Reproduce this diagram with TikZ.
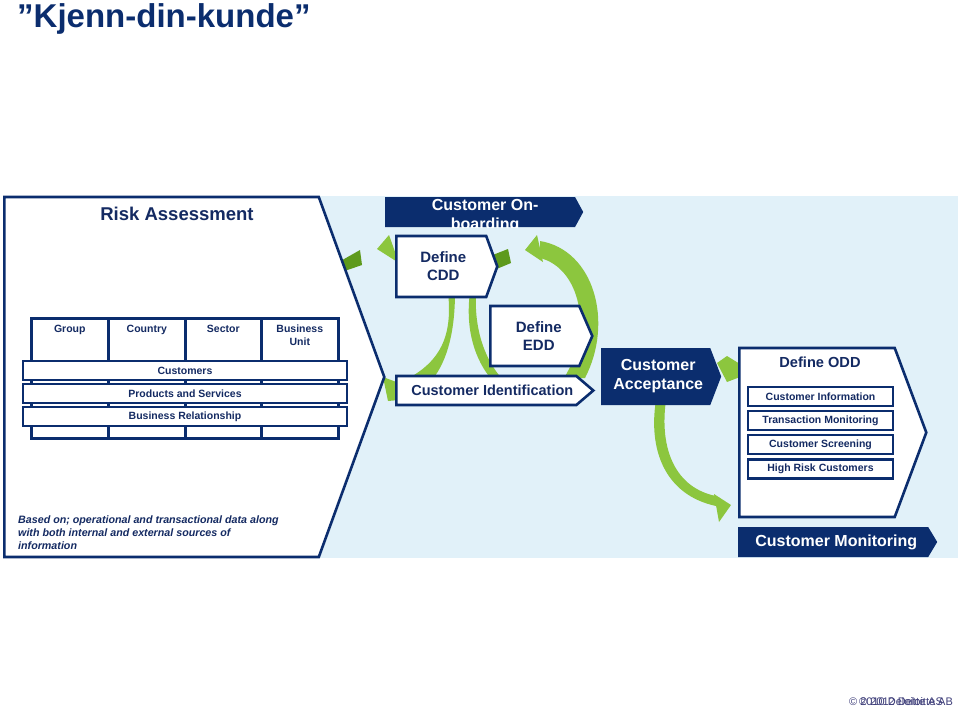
\documentclass[tikz,border=0pt]{standalone}
\usepackage{fontspec}
\setmainfont{Liberation Sans}
\usetikzlibrary{arrows.meta,positioning,calc,shapes.symbols}
\definecolor{navy}{HTML}{0B2D6E}
\definecolor{navytxt}{HTML}{142A62}
\definecolor{skyback}{HTML}{E1F1F9}
\definecolor{verdeclaro}{HTML}{8CC63E}
\definecolor{verdeosc}{HTML}{5E9A1C}
\definecolor{piegris}{HTML}{3C3C78}
\newcommand{\fs}[2]{\fontsize{#1}{#2}\selectfont}
\tikzset{
  sigw/.style  = {signal, signal to=east, draw=navy, line width=2.6pt, fill=white,
                  inner sep=0pt, align=center, text=navytxt, font=\bfseries, anchor=west},
  sign/.style  = {signal, signal to=east, fill=navy, inner sep=0pt, align=center,
                  text=white, font=\bfseries, anchor=west},
  barra/.style = {draw=navy, line width=2.6pt, fill=white, inner sep=0pt,
                  text=navytxt, font=\fs{10.5}{12}\bfseries},
  colu/.style  = {draw=navy, line width=2.6pt, fill=white, inner sep=0pt,
                  minimum width=77pt, minimum height=120pt, anchor=north west},
  cabe/.style  = {text=navytxt, font=\fs{10.5}{13}\bfseries, align=center,
                  inner sep=0pt, anchor=north},
  txt/.style   = {text=navytxt, inner sep=0pt, font=\bfseries},
  verde/.style = {fill=verdeclaro},
  verdeo/.style= {fill=verdeosc},
}

\begin{document}
\begin{tikzpicture}[x=1pt, y=-1pt]
  \useasboundingbox (0,0) rectangle (960,710);
  % titulo
  \node[txt, anchor=base west, text=navy, font=\fs{33}{37}\bfseries] (titulo) at (17,27) {”Kjenn-din-kunde”};
  % fondo
  \fill[skyback] (320,196) rectangle (958,558);

  % flechas verdes
  \fill[verdeo] (330,267) -- (360,250) -- (362,265) -- (330,276) -- cycle;
  \fill[verde] (377,249) -- (389,235) -- (399,263) -- cycle;
  \fill[verdeo] (485,258) -- (508,249) -- (511,263) -- (487,273) -- cycle;
  \fill[verde] (540,241) .. controls (594,250) and (614,322) .. (585,378)
     -- (564,378) .. controls (594,330) and (580,268) .. (540,258) -- cycle;
  \fill[verde] (525,250) -- (537,235) -- (543,262) -- cycle;
  \fill[verde] (448,292) .. controls (452,330) and (445,360) .. (405,380)
     -- (432,380) .. controls (448,360) and (455,330) .. (455,292) -- cycle;
  \fill[verde] (470,292) .. controls (465,330) and (475,360) .. (492,380)
     -- (503,380) .. controls (485,360) and (474,330) .. (476,292) -- cycle;
  \fill[verde] (383,377) -- (399,383) -- (399,400) -- (388,401) -- cycle;
  \fill[verde] (656,400) .. controls (648,450) and (665,495) .. (716,506)
     -- (716,496) .. controls (676,488) and (659,450) .. (666,400) -- cycle;
  \fill[verde] (714,494) -- (731,505) -- (719,522) -- cycle;
  \fill[verde] (717,363) -- (727,356) -- (740,364) -- (740,377) -- (727,382) -- cycle;

  % Risk Assessment
  \node[sigw, minimum width=380pt, minimum height=360pt, signal pointer angle=140] (ra) at (3,377) {};
  \node[txt, font=\fs{18.5}{22}\bfseries] (rat) at (177,214) {Risk Assessment};
  \node[colu] (g1) at (30,317) {};
  \node[colu] (g2) at (107,317) {};
  \node[colu, minimum width=76pt] (g3) at (184,317) {};
  \node[colu] (g4) at (260,317) {};
  \node[cabe] at ([yshift=-8pt]g1.north) {Group};
  \node[cabe] at ([yshift=-8pt]g2.north) {Country};
  \node[cabe] at ([yshift=-8pt]g3.north) {Sector};
  \node[cabe] at ([yshift=-8pt]g4.north) {Business\\Unit};
  \node[barra, minimum width=324pt, minimum height=19pt] (b1) at (185,370.5) {Customers};
  \node[barra, minimum width=324pt, minimum height=19pt] (b2) at (185,393.5) {Products and Services};
  \node[barra, minimum width=324pt, minimum height=19pt] (b3) at (185,416.5) {Business Relationship};
  \node[txt, anchor=north west, align=left, font=\fs{10.7}{13}\bfseries\itshape] (nota) at (18,516)
    {Based on; operational and transactional data along\\with both internal and external sources of\\information};

  % Customer On-boarding
  \node[sign, minimum width=198pt, minimum height=30pt, signal pointer angle=123] (onb) at (385,212) {};
  \begin{scope}
    \clip (380,190) rectangle (600,227);
    \node[txt, text=white, font=\fs{16}{19}\bfseries, align=center] (onbt) at ([xshift=5pt, yshift=-4pt]onb.center) {Customer On-\\boarding};
  \end{scope}

  % CDD / EDD / identificacion
  \node[sigw, minimum width=101pt, minimum height=61pt, signal pointer angle=140, font=\fs{15}{18}\bfseries] (cdd) at (395,266.5) {\hspace{4pt}Define\\\hspace{4pt}CDD};
  \node[sigw, minimum width=102pt, minimum height=60pt, signal pointer angle=133, font=\fs{15}{18}\bfseries] (edd) at (489,336) {\hspace{8pt}Define\\\hspace{8pt}EDD};
  \node[sigw, minimum width=197pt, minimum height=29pt, signal pointer angle=81, font=\fs{14.5}{17}\bfseries] (cid) at (395,390.5) {\hspace{12pt}Customer Identification};

  % aceptacion
  \node[sign, minimum width=120pt, minimum height=57pt, signal pointer angle=138, font=\fs{16}{19}\bfseries] (cacc) at (601,376.5) {\hspace{5pt}Customer\\\hspace{5pt}Acceptance};

  % ODD
  \node[sigw, minimum width=187pt, minimum height=169pt, signal pointer angle=139] (odd) at (738,432.5) {};
  \node[txt, font=\fs{14.6}{17}\bfseries] (oddt) at (820,362) {Define ODD};
  \node[barra, minimum width=145pt, minimum height=19pt] (o1) at (820.5,396.5) {Customer Information};
  \node[barra, minimum width=145pt, minimum height=19pt] (o2) at (820.5,420.5) {Transaction Monitoring};
  \node[barra, minimum width=145pt, minimum height=19pt] (o3) at (820.5,444.5) {Customer Screening};
  \node[barra, minimum width=145pt, minimum height=19pt] (o4) at (820.5,469) {High Risk Customers};

  % monitoring
  \node[sign, minimum width=199pt, minimum height=30pt, signal pointer angle=118, font=\fs{16}{19}\bfseries] (cmon) at (738,542) {\hspace{6pt}Customer Monitoring};

  % pie
  \node[anchor=base west, inner sep=0pt, text=piegris, font=\fs{11}{13}] (pie1) at (849,705) {© 2010 Deloitte AS};
  \node[anchor=base west, inner sep=0pt, text=piegris, font=\fs{11}{13}] (pie2) at (859,705) {© 2012 Deloitte AB};
\end{tikzpicture}
\end{document}
